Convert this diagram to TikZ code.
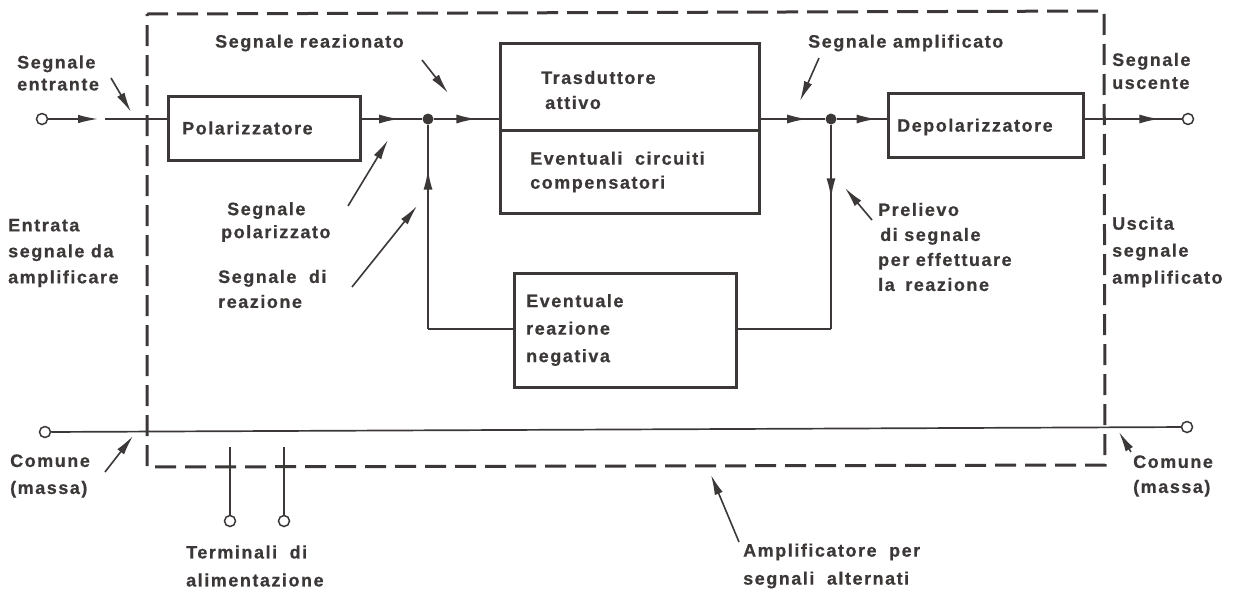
\documentclass[tikz,border=0pt]{standalone}
\usepackage{fontspec}
\setmainfont{Liberation Sans}[LetterSpace=8.5,FakeBold=0.6]
\usetikzlibrary{arrows.meta,decorations.markings}
\definecolor{ink}{RGB}{60,56,56}
\newcommand\lblsz[1]{\bfseries\fontsize{18}{#1}\selectfont}
\begin{document}
\begin{tikzpicture}[x=1pt,y=-1pt,
  every node/.style={text=ink},
  lbl/.style={inner sep=0,anchor=west,align=left,font=\lblsz{25}},
  blk/.style={draw=ink,line width=3pt,inner sep=0},
  wire/.style={draw=ink,line width=1.7pt},
  ptr/.style={draw=ink,line width=1.6pt,-{Latex[length=20pt,width=8.5pt]}},
  arrowat/.style={postaction={decorate},decoration={markings,mark=at position #1 with {\arrow[ink]{Latex[length=20pt,width=9pt]}}}},
  dot/.style={circle,fill=ink,inner sep=0,minimum size=11pt},
  term/.style={circle,draw=ink,line width=1.5pt,fill=white,inner sep=0,minimum size=11pt},
  dbox/.style={draw=ink,line width=3pt,dash pattern=on 21pt off 9pt}]
\useasboundingbox (0,0) rectangle (1233,590);
\fill[white] (0,0) rectangle (1233,590);

% dashed amplifier outline
\draw[dbox] (147,14) -- (1104,11) -- (1105,465) -- (147,467) -- cycle;

% blocks
\node[blk,minimum width=192pt,minimum height=64pt] (pol) at (264,128) {};
\node[lbl] (poltx) at (182,128) {Polarizzatore};
\node[blk,minimum width=259pt,minimum height=170pt] (tr) at (629.5,128) {};
\coordinate (dvl) at (500,130);
\coordinate (dvr) at (759,130);
\draw[draw=ink,line width=3pt] (dvl) -- (dvr);
\node[lbl] (trtx) at (541,90) {Trasduttore\\\hspace*{4pt}attivo};
\node[lbl,font=\lblsz{24}] (ectx) at (530,172) {Eventuali\hspace{6pt} circuiti\\compensatori};
\node[blk,minimum width=195pt,minimum height=64pt] (dep) at (985.5,125) {};
\node[lbl] (deptx) at (897,127) {Depolarizzatore};
\node[blk,minimum width=222pt,minimum height=114pt] (neg) at (625,330) {};
\node[lbl,font=\lblsz{27.5}] (negtx) at (526,330) {Eventuale\\reazione\\negativa};

% main signal path
\node[term] (in) at (42,119) {};
\coordinate (a1) at (98,119);
\coordinate (a2) at (105,119);
\node[dot] (j1) at (428,119) {};
\node[dot] (j2) at (831,119) {};
\node[term] (out) at (1188,119) {};
\draw[ptr] (in) -- (a1);
\draw[wire] (a2) -- (pol.west |- a2);
\draw[wire,arrowat=0.62] (pol.east |- j1) -- (j1);
\draw[wire,arrowat=0.66] (j1) -- (tr.west |- j1);
\draw[wire,arrowat=0.72] (tr.east |- j2) -- (j2);
\draw[wire,arrowat=0.8] (j2) -- (dep.west |- j2);
\draw[wire,arrowat=0.77] (dep.east |- out) -- (out);

% feedback loop
\coordinate (c1) at (428,329);
\coordinate (c2) at (831,329);
\draw[wire] (neg.west |- c1) -- (c1);
\draw[wire,arrowat=0.78] (c1) -- (j1);
\draw[wire] (neg.east |- c2) -- (c2);
\draw[wire,arrowat=0.36] (j2) -- (c2);

% common (ground) line
\node[term] (cl) at (45,432) {};
\node[term] (cr) at (1187,427) {};
\draw[wire] (cl) -- (cr);

% supply terminals
\coordinate (p1) at (230,447);
\coordinate (p2) at (284,447);
\node[term] (t1) at (230,521) {};
\node[term] (t2) at (284,521) {};
\draw[wire] (p1) -- (t1);
\draw[wire] (p2) -- (t2);

% labels
\node[lbl,font=\lblsz{22}] (lent) at (17,73) {Segnale\\entrante};
\coordinate (e1) at (111,78); \coordinate (e2) at (131,112);
\draw[ptr] (e1) -- (e2);

\node[lbl] (lrea) at (215,43) {Segnale reazionato};
\coordinate (r1) at (422,60); \coordinate (r2) at (448,93);
\draw[ptr] (r1) -- (r2);

\node[lbl,font=\lblsz{23}] (lpol) at (221,222) {\hspace*{6pt}Segnale\\polarizzato};
\coordinate (q1) at (348,206); \coordinate (q2) at (388,140);
\draw[ptr] (q1) -- (q2);

\node[lbl] (lsr) at (218,289) {Segnale\hspace{6pt} di\\reazione};
\coordinate (s1) at (352,287); \coordinate (s2) at (417,206);
\draw[ptr] (s1) -- (s2);

\node[lbl,font=\lblsz{26}] (lentr) at (8,253) {Entrata\\segnale da\\amplificare};

\node[lbl] (lamp) at (808,43) {Segnale amplificato};
\coordinate (m1) at (819,58); \coordinate (m2) at (800,101);
\draw[ptr] (m1) -- (m2);

\node[lbl,font=\lblsz{23}] (lusc) at (1112,71) {Segnale\\uscente};

\node[lbl] (lpre) at (878,247) {Prelievo\\\hspace*{2pt}di segnale\\per effettuare\\la\hspace{4pt} reazione};
\coordinate (v1) at (872,220); \coordinate (v2) at (845,188);
\draw[ptr] (v1) -- (v2);

\node[lbl,font=\lblsz{27}] (lusa) at (1112,252) {Uscita\\segnale\\amplificato};

\node[lbl,font=\lblsz{27}] (lcl) at (10,476) {Comune\\(massa)};
\coordinate (g1) at (105,472); \coordinate (g2) at (133,436);
\draw[ptr] (g1) -- (g2);

\node[lbl] (lcr) at (1133,476) {Comune\\(massa)};
\coordinate (h1) at (1131,452); \coordinate (h2) at (1119,432);
\draw[ptr] (h1) -- (h2);

\node[lbl,font=\lblsz{28}] (lter) at (186,566) {Terminali\hspace{6pt} di\\alimentazione};

\node[lbl,font=\lblsz{28}] (lamf) at (743,566) {Amplificatore\hspace{6pt} per\\segnali\hspace{6pt} alternati};
\coordinate (k1) at (739,542); \coordinate (k2) at (711,475);
\draw[ptr] (k1) -- (k2);
\end{tikzpicture}
\end{document}
